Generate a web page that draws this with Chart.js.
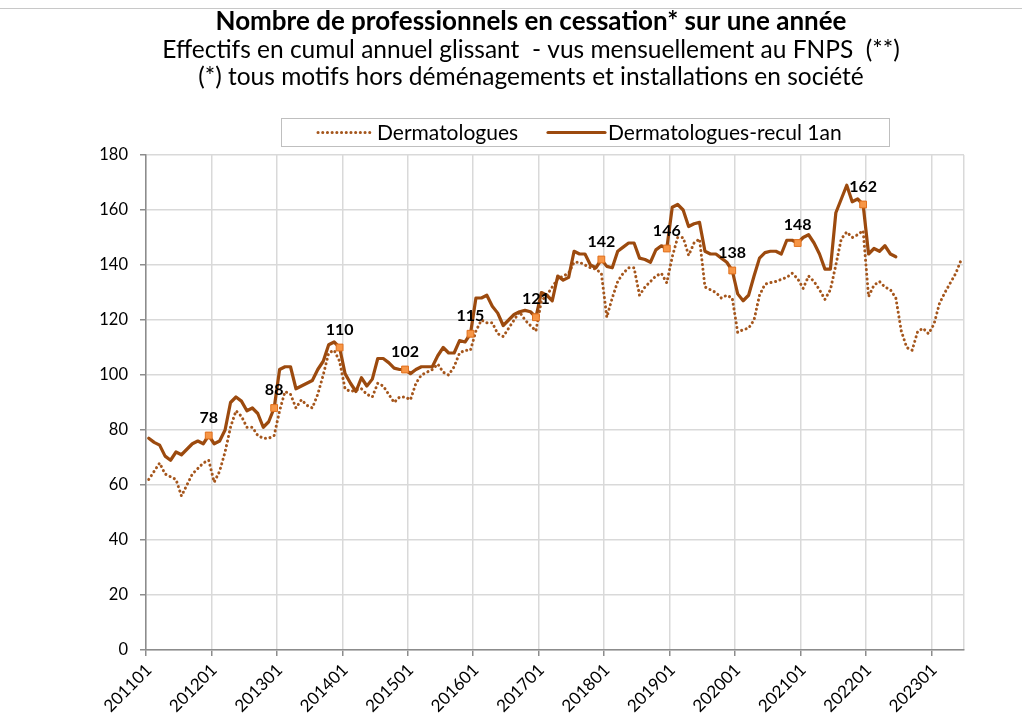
<!DOCTYPE html>
<html>
<head>
<meta charset="utf-8">
<script src="https://cdn.jsdelivr.net/npm/chart.js@4.4.1/dist/chart.umd.min.js"></script>
<style>
html,body{margin:0;padding:0;background:#ffffff;}
#wrap{width:1022px;height:725px;position:relative;}
</style>
</head>
<body>
<div id="wrap"><canvas id="c" width="1022" height="725"></canvas></div>
<script>
// ---------------- DATA ----------------
const months = [
  '201101','201102','201103','201104','201105','201106','201107','201108','201109','201110','201111','201112',
  '201201','201202','201203','201204','201205','201206','201207','201208','201209','201210','201211','201212',
  '201301','201302','201303','201304','201305','201306','201307','201308','201309','201310','201311','201312',
  '201401','201402','201403','201404','201405','201406','201407','201408','201409','201410','201411','201412',
  '201501','201502','201503','201504','201505','201506','201507','201508','201509','201510','201511','201512',
  '201601','201602','201603','201604','201605','201606','201607','201608','201609','201610','201611','201612',
  '201701','201702','201703','201704','201705','201706','201707','201708','201709','201710','201711','201712',
  '201801','201802','201803','201804','201805','201806','201807','201808','201809','201810','201811','201812',
  '201901','201902','201903','201904','201905','201906','201907','201908','201909','201910','201911','201912',
  '202001','202002','202003','202004','202005','202006','202007','202008','202009','202010','202011','202012',
  '202101','202102','202103','202104','202105','202106','202107','202108','202109','202110','202111','202112',
  '202201','202202','202203','202204','202205','202206','202207','202208','202209','202210','202211','202212',
  '202301','202302','202303','202304','202305','202306'
];

const tickLabels = ['201101','201201','201301','201401','201501','201601','201701','201801','201901','202001','202101','202201','202301'];

// Dermatologues (dotted)
const dermatologues = [
  62, 65, 68, 64, 63, 62, 56, 60, 64, 66, 68, 69,
  61, 65, 72, 81, 87, 85, 81, 81, 78, 77, 77, 78,
  87, 94, 93, 88, 91, 89, 88, 93, 100, 108, 109, 105,
  95, 94, 94.5, 95, 93, 92, 97, 96, 93, 90, 92, 92,
  91, 97, 100, 101, 102, 104, 101, 100, 103, 108, 109, 109,
  116, 120, 119, 119, 115, 114, 117, 120, 123, 120, 118, 116,
  127, 129, 132, 135, 136, 137, 141, 141, 140, 139, 138.5, 137,
  121, 128, 134, 137, 139, 139, 129, 132, 134, 136, 137, 133.5,
  143, 150, 150, 143.5, 148, 149.5, 132, 131, 130, 128, 129, 128,
  115.5, 116.5, 117, 120, 129, 133, 133.6, 134, 134.8, 135.5, 137, 135,
  131.5, 136, 134, 131, 127.5, 131, 140, 149.5, 152, 150, 151, 152.5,
  128.5, 132.7, 134, 132, 131, 128, 116, 110, 109, 115.8, 117, 115,
  118.5, 126, 130, 133.5, 137, 142
];

// Dermatologues-recul 1an (solid)
const dermatologuesRecul1an = [
  77, 75.5, 74.5, 70.5, 69, 72, 71, 73, 75, 76, 75, 78,
  75, 76, 80, 90, 92, 90.5, 87, 88, 86, 81, 83, 88,
  102, 103, 103, 95, 96, 97, 98, 102, 105, 111, 112, 110,
  100.5, 97, 94, 99, 96, 98.5, 106, 106, 104.5, 102.5, 102, 102,
  100.5, 102, 103, 103, 103, 107, 110, 108, 108, 112.5, 112, 115,
  128, 128, 129, 125, 122.5, 118, 120, 122, 123, 123.5, 123, 121,
  130, 129, 127, 136, 134.5, 135.5, 145, 144, 144, 140, 139, 142,
  139.5, 139, 145, 146.5, 148, 148, 142.5, 142, 141, 145.5, 147, 146,
  161, 162, 160, 154, 155, 155.5, 145, 144, 144, 142.5, 141, 138,
  129.5, 127, 129, 136, 142.5, 144.5, 145, 145, 144, 149, 149, 148,
  150, 151, 148, 144, 138.5, 138.5, 159, 164, 169, 163, 164, 162,
  144, 146, 145, 147, 144, 143
];

// Months whose value is marked and labelled on the solid series (annual totals)
const markedMonths = ['201112','201212','201312','201412','201512','201612','201712','201812','201912','202012','202112'];

const seriesNames = ['Dermatologues', 'Dermatologues-recul 1an'];
const titleText = 'Nombre de professionnels en cessation* sur une année';
const subtitleLines = [
  'Effectifs en cumul annuel glissant  - vus mensuellement au FNPS  (**)',
  '(*) tous motifs hors déménagements et installations en société'
];

// ---------------- STYLE ----------------
const FONT = 'Lato, "Open Sans", sans-serif';
const GRID = '#D9D9D9';
const AXIS = '#8C8C8C';
const DOT_COLOR = '#A5561C';
const LINE_COLOR = '#9C4A0E';

const isTickIndex = (i) => i !== undefined && tickLabels.includes(months[i]);

// thin top edge of the chart frame
const frameTop = {
  id: 'frameTop',
  beforeDraw(chart) {
    const ctx = chart.ctx;
    ctx.save();
    ctx.strokeStyle = '#C8C8C8';
    ctx.lineWidth = 1;
    ctx.beginPath();
    ctx.moveTo(0, 8.5);
    ctx.lineTo(chart.width, 8.5);
    ctx.stroke();
    ctx.restore();
  }
};

// custom legend (boxed, positioned like the original)
const boxedLegend = {
  id: 'boxedLegend',
  afterDraw(chart) {
    const ctx = chart.ctx;
    const box = {x: 281.5, y: 118.5, w: 608, h: 28};
    ctx.save();
    ctx.fillStyle = '#ffffff';
    ctx.strokeStyle = '#BFBFBF';
    ctx.lineWidth = 1;
    ctx.fillRect(box.x, box.y, box.w, box.h);
    ctx.strokeRect(box.x, box.y, box.w, box.h);
    const items = [
      {ds: chart.data.datasets[0], x0: 318, x1: 372, tx: 377},
      {ds: chart.data.datasets[1], x0: 548, x1: 605, tx: 608}
    ];
    const cy = box.y + box.h / 2;
    items.forEach(it => {
      ctx.save();
      ctx.strokeStyle = it.ds.borderColor;
      ctx.lineWidth = it.ds.borderWidth;
      ctx.lineCap = it.ds.borderCapStyle || 'butt';
      ctx.setLineDash(it.ds.borderDash || []);
      ctx.beginPath();
      ctx.moveTo(it.x0, cy);
      ctx.lineTo(it.x1, cy);
      ctx.stroke();
      ctx.restore();
      ctx.fillStyle = '#000000';
      ctx.font = '21px ' + FONT;
      ctx.textAlign = 'left';
      ctx.textBaseline = 'middle';
      ctx.fillText(it.ds.label, it.tx, cy + 0.5);
    });
    ctx.restore();
  }
};

// value labels above the marked points
const markLabels = {
  id: 'markLabels',
  afterDatasetsDraw(chart) {
    const ctx = chart.ctx;
    const meta = chart.getDatasetMeta(1);
    const data = chart.data.datasets[1].data;
    ctx.save();
    ctx.fillStyle = '#000000';
    ctx.font = 'bold 16px ' + FONT;
    ctx.textAlign = 'center';
    ctx.textBaseline = 'middle';
    meta.data.forEach((pt, i) => {
      if (markedMonths.includes(months[i]) && data[i] != null) {
        ctx.fillText(String(data[i]), pt.x, pt.y - 18);
      }
    });
    ctx.restore();
  }
};

const ctx = document.getElementById('c').getContext('2d');
new Chart(ctx, {
  type: 'line',
  data: {
    labels: months,
    datasets: [
      {
        label: seriesNames[0],
        data: dermatologues,
        borderColor: DOT_COLOR,
        backgroundColor: DOT_COLOR,
        borderWidth: 3,
        borderDash: [0.1, 4.6],
        borderCapStyle: 'round',
        borderJoinStyle: 'round',
        pointRadius: 0,
        pointHoverRadius: 0,
        tension: 0,
        fill: false,
        order: 2
      },
      {
        label: seriesNames[1],
        data: dermatologuesRecul1an,
        borderColor: LINE_COLOR,
        backgroundColor: LINE_COLOR,
        borderWidth: 3.2,
        borderCapStyle: 'round',
        borderJoinStyle: 'round',
        pointStyle: 'rect',
        pointRadius: (c) => markedMonths.includes(months[c.dataIndex]) ? 4.8 : 0,
        pointHoverRadius: (c) => markedMonths.includes(months[c.dataIndex]) ? 4.8 : 0,
        pointBackgroundColor: '#F79646',
        pointBorderColor: '#E0701E',
        pointBorderWidth: 1,
        tension: 0,
        fill: false,
        order: 1
      }
    ]
  },
  options: {
    responsive: false,
    animation: false,
    devicePixelRatio: 1,
    events: [],
    layout: {padding: {left: 98, right: 58, top: 0, bottom: 0}},
    plugins: {
      legend: {display: false},
      tooltip: {enabled: false},
      title: {
        display: true,
        text: titleText,
        color: '#000000',
        font: {family: FONT, size: 26, weight: 'bold', lineHeight: '30px'},
        padding: {top: 7, bottom: 0}
      },
      subtitle: {
        display: true,
        text: subtitleLines,
        color: '#000000',
        font: {family: FONT, size: 24.5, weight: 'normal', lineHeight: '27px'},
        padding: {top: 0, bottom: 64}
      }
    },
    scales: {
      x: {
        type: 'category',
        offset: true,
        grid: {
          offset: true,
          color: (c) => (c.index === undefined || isTickIndex(c.index)) ? GRID : 'rgba(0,0,0,0)',
          tickColor: (c) => isTickIndex(c.index) ? AXIS : 'rgba(0,0,0,0)',
          tickLength: 6,
          lineWidth: 1.5
        },
        border: {color: AXIS, width: 1.5},
        ticks: {
          autoSkip: false,
          minRotation: 45,
          maxRotation: 45,
          padding: 4,
          color: '#000000',
          font: {family: FONT, size: 17},
          callback: function(value, index) {
            const m = this.getLabelForValue(value);
            return tickLabels.includes(m) ? m : '';
          }
        },
        afterFit: (s) => { s.height = 75; }
      },
      y: {
        min: 0,
        max: 180,
        grid: {color: GRID, tickColor: AXIS, tickLength: 6, lineWidth: 1.5},
        border: {color: AXIS, width: 1.5},
        ticks: {
          stepSize: 20,
          padding: 12,
          color: '#000000',
          font: {family: FONT, size: 16.5}
        },
        afterFit: (s) => { s.width = 48; }
      }
    }
  },
  plugins: [frameTop, markLabels, boxedLegend]
});
</script>
</body>
</html>
